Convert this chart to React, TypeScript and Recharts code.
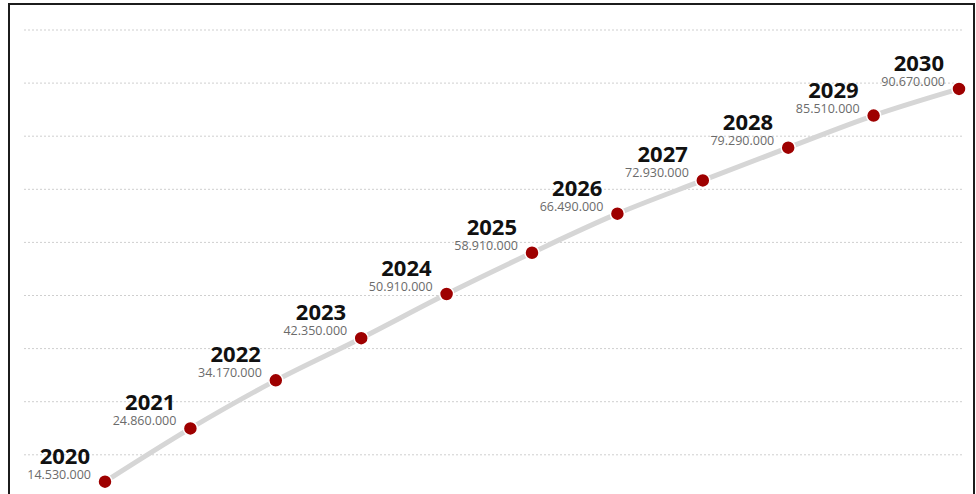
import React from "react";
import { LineChart, Line, XAxis, YAxis, CartesianGrid, LabelList } from "recharts";

const years = ["2020", "2021", "2022", "2023", "2024", "2025", "2026", "2027", "2028", "2029", "2030"];
const values = [
  14530000, 24860000, 34170000, 42350000, 50910000, 58910000, 66490000, 72930000, 79290000, 85510000,
  90670000,
];
// background rows: the plot area is split into 10 equal bands
const gridRows = [0, 1, 2, 3, 4, 5, 6, 7, 8, 9, 10];

const data = years.map((year, i) => ({ year, value: values[i] }));

const fmt = (v: number) => String(v).replace(/\B(?=(\d{3})+(?!\d))/g, ".");

const FONT = "'Open Sans', 'Noto Sans', sans-serif";

function PointLabel(props: any) {
  const { x, y, value, index } = props;
  if (x == null || y == null) return null;
  return (
    <g>
      <text
        x={x - 15}
        y={y - 18}
        textAnchor="end"
        fontFamily={FONT}
        fontSize={22}
        fontWeight={700}
        fill="#111"
      >
        {years[index]}
      </text>
      <text x={x - 14} y={y - 3} textAnchor="end" fontFamily={FONT} fontSize={12.5} fill="#6b6b6b">
        {fmt(value)}
      </text>
    </g>
  );
}

export default function App() {
  return (
    <div
      style={{
        position: "absolute",
        left: 8,
        top: 3,
        width: 967,
        height: 491,
        borderTop: "2px solid #1c1c1c",
        borderLeft: "2px solid #1c1c1c",
        borderRight: "2px solid #1c1c1c",
        boxSizing: "border-box",
        overflow: "hidden",
        background: "#fff",
      }}
    >
      <LineChart width={963} height={560} data={data} margin={{ top: 25, right: 11, bottom: 4, left: 14 }}>
        <CartesianGrid
          vertical={false}
          stroke="#cfcfcf"
          strokeDasharray="2 2"
          horizontalCoordinatesGenerator={({ offset }: any) =>
            gridRows.map((i) => offset.top + (offset.height * i) / 10)
          }
        />
        <XAxis dataKey="year" hide padding={{ left: 81, right: 3 }} />
        <YAxis hide domain={[-850000, 102100000]} />
        <Line
          dataKey="value"
          type="monotone"
          stroke="#d6d6d6"
          strokeWidth={5}
          dot={{ r: 7, fill: "#9e0000", stroke: "#fff", strokeWidth: 1.5 }}
          activeDot={false}
          isAnimationActive={false}
        >
          <LabelList dataKey="value" content={<PointLabel />} />
        </Line>
      </LineChart>
    </div>
  );
}
